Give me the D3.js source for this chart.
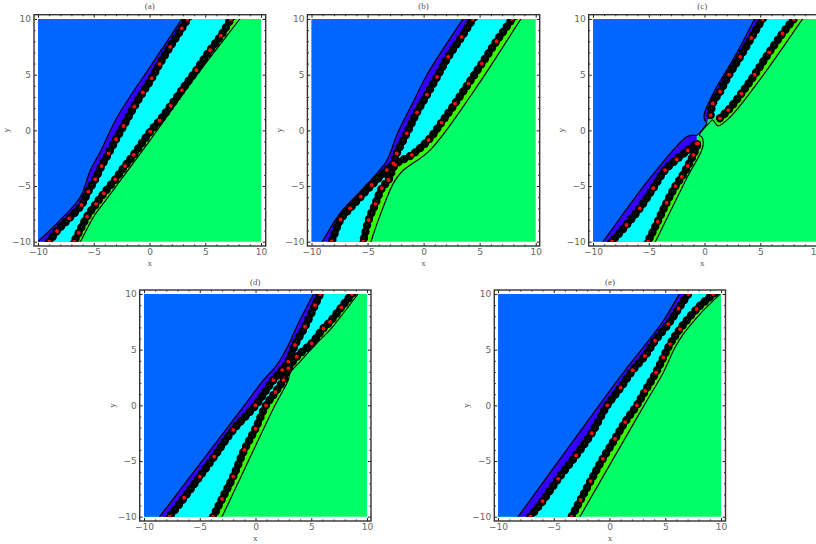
<!DOCTYPE html>
<html>
<head>
<meta charset="utf-8">
<script src="https://cdn.jsdelivr.net/npm/d3@7"></script>
<style>
  html, body { margin: 0; padding: 0; background: #fff; overflow: hidden; }
  svg { display: block; }
</style>
</head>
<body>
<svg id="chart" width="816" height="544"></svg>
<script>
const majorTicks = [-10, -5, 0, 5, 10];
const minorTicks = [-9, -8, -7, -6, -4, -3, -2, -1, 1, 2, 3, 4, 6, 7, 8, 9];

// panel (a), all values in x,y units
const blueA = [[-10,-10],[-8,-8.05],[-6.2,-5.96],[-5.3,-3.56],[-4.4,-1.9],[-2.9,1.2],[0.65,6.6],[2.9,10]];
const upperA = [[-9,-10],[-8.3,-9.04],[-7.2,-7.9],[-6.1,-6.7],[-5.5,-5.5],[-4.87,-4.4],[-4.3,-3.2],[-3.67,-2.07],[-3,-0.8],[-2.33,0.39],[-1.37,2.13],[-0.6,3.4],[0.2,4.67],[0.9,5.96],[1.85,7.5],[2.9,9.16],[3.4,10]];
const lowerA = [[-6.75,-10],[-6.35,-9.2],[-5.6,-7.75],[-4.8,-6.6],[-4.1,-5.66],[-3.07,-4.4],[-2.2,-3.2],[-1.43,-2.2],[0.06,-0.12],[0.9,0.87],[1.9,2.2],[2.9,3.62],[4.2,5.4],[5.43,7.2],[6.4,8.5],[7.3,10]];
const greenA = [[-6.2,-10],[-5,-7.75],[-3.8,-6.1],[0.06,-0.87],[4.24,4.97],[8.1,10]];

// panel (b)
const blueB = [[-9.06,-10],[-7.46,-7.46],[-5.67,-5.5],[-4.04,-3.72],[-3.44,-2.97],[-2.99,-2.07],[-2.4,-0.42],[-1,2.4],[0.3,5],[3.5,10]];
const upperB = [[-8.2,-10],[-7.4,-8],[-6.56,-7],[-5.6,-5.95],[-4.63,-4.91],[-3.29,-3.57],[-2.7,-2.97],[-2.4,-2.07],[-1.5,-0.27],[-0.6,1.6],[0.3,3.2],[1.2,4.8],[2.2,6.6],[3.4,8.4],[4.4,10]];
const lowerB = [[-5.4,-10],[-4.9,-8.06],[-4.3,-6.6],[-3.73,-5.2],[-3.14,-4.46],[-2.54,-3.1],[-1.05,-2.2],[0.43,-0.87],[1.6,0.7],[2.8,2.4],[4,4.2],[5.2,6],[6.5,8],[7.9,10]];
const greenB = [[-4.7,-10],[-4.04,-8.06],[-2.7,-4.76],[-1.95,-3.72],[0.58,-1.77],[4.4,3.4],[8.68,10]];

// panel (c), the null entries split each line at the pinch in the middle
const blueC = [[-9.1,-10],[-4.9,-4.3],[-1.6,-0.57],[-1,-0.42],[-0.7,-0.45],null,[0.2,0.72],[0.05,0.85],[-0.04,1.37],[0.94,3.62],[2.7,6.6],[4.5,10]];
const upperC = [[-8.3,-10],[-7,-8.5],[-5.8,-7],[-4.6,-5.2],[-3.54,-3.57],[-2.5,-2.6],[-1.5,-1.8],[-0.7,-1.17],null,[0.55,1.37],[0.74,2.42],[1.39,3.47],[2.2,5],[3.2,6.6],[4.2,8.3],[5.2,10]];
const lowerC = [[-5.07,-10],[-4.2,-8.2],[-3.4,-6.5],[-2.6,-5],[-2.04,-4.17],[-1.5,-3.2],[-1,-2.2],[-0.58,-1.17],null,[1.39,1.08],[2.13,1.82],[3.3,3.3],[4.5,5],[5.8,7],[7,8.7],[8,10]];
const greenC = [[-4.4,-10],[-1.6,-4.3],[-0.15,-1.47],[-0.25,-0.57],[-0.45,-0.45],null,[0.45,0.7],[0.74,0.93],[1.2,0.41],[2.3,1.2],[5,4.6],[8.8,10]];

// panel (d)
const blueD = [[-8.6,-10],[-1,0],[0.7,2.27],[1.9,3.62],[2.8,5.12],[3.84,7.37],[5.2,10]];
const upperD = [[-7.7,-10],[-6.4,-8.3],[-5,-6.4],[-3.7,-4.6],[-2,-2.2],[0,0],[1.6,2.27],[2.4,3.17],[2.94,3.92],[3.54,5.42],[4.44,7.06],[5.34,9],[5.8,10]];
const lowerD = [[-3.8,-10],[-3,-8.4],[-2,-6.4],[-1,-4],[0,-2.1],[0.94,0],[1.8,1.2],[2.5,2.27],[2.94,3.32],[3.7,4.37],[5.04,5.57],[6.08,6.9],[6.68,7.5],[7.7,8.8],[8.65,10]];
const greenD = [[-3,-10],[1.75,0],[2.94,2.27],[3.1,2.9],[3.99,3.92],[5.63,5.72],[6.68,6.77],[9.2,10]];

// panel (e)
const blueE = [[-8.2,-10],[-0.94,0],[1.24,2.95],[2.89,5.05],[4.83,7.6],[6.26,10]];
const upperE = [[-7.1,-10],[-6,-8.6],[-4.6,-6.6],[-3,-4.5],[-1.6,-2.5],[-0.2,0],[1,1.6],[2.08,3.15],[3.18,4.44],[4.08,5.8],[5.27,7.3],[6.2,8.7],[7.07,10]];
const lowerE = [[-3.4,-10],[-2.6,-8.5],[-1.7,-6.8],[-0.6,-4.8],[0.5,-3],[1.4,-1.5],[2.45,0],[3.2,1.3],[4.17,2.95],[4.83,4.3],[5.43,5.5],[6.32,6.85],[7.82,8.65],[9.3,10]];
const greenE = [[-2.65,-10],[3.1,0],[4.83,2.95],[5.87,5.2],[6.62,6.4],[8.12,8.2],[9.91,10]];

const panelNames = ["(a)", "(b)", "(c)", "(d)", "(e)"];
const blueLines = [blueA, blueB, blueC, blueD, blueE];
const upperBands = [upperA, upperB, upperC, upperD, upperE];
const lowerBands = [lowerA, lowerB, lowerC, lowerD, lowerE];
const greenLines = [greenA, greenB, greenC, greenD, greenE];

// pixel boxes of the five panels
const boxes = [
    {left: 38, right: 261, top: 19, bottom: 241.7, frameL: 34, frameR: 265.7, frameT: 14.7, frameB: 246},
    {left: 311.5, right: 535.7, top: 19, bottom: 241.7, frameL: 307.4, frameR: 539.7, frameT: 14.7, frameB: 246},
    {left: 593, right: 816, top: 19, bottom: 241.7, frameL: 588.7, frameR: 820, frameT: 14.7, frameB: 246},
    {left: 144, right: 367, top: 294, bottom: 516.7, frameL: 139.7, frameR: 371, frameT: 290, frameB: 521},
    {left: 498, right: 721, top: 294, bottom: 516.7, frameL: 494.3, frameR: 725.5, frameT: 290, frameB: 521}
];

const svg = d3.select("#chart");

// runs a line a little past y=+-10 so the clip cuts it cleanly
function extended(points){
    const first = points[0], second = points[1];
    const last = points[points.length - 1], prev = points[points.length - 2];
    return [
        [first[0] - (second[0] - first[0]), first[1] - (second[1] - first[1])],
        ...points,
        [last[0] + (last[0] - prev[0]), last[1] + (last[1] - prev[1])]
    ];
}

// cuts a list into its pieces at the null entries
function pieces(points){
    const out = [[]];
    points.forEach(p => {
        if(p === null){
            out.push([]);
        }else{
            out[out.length - 1].push(p);
        }
    });
    return out;
}

function drawPanel(i){
    const box = boxes[i];
    const x = d3.scaleLinear().domain([-10, 10]).range([box.left, box.right]);
    const y = d3.scaleLinear().domain([-10, 10]).range([box.bottom, box.top]);

    const line = d3.line().x(d => x(d[0])).y(d => y(d[1]));
    const curved = d3.line().x(d => x(d[0])).y(d => y(d[1])).curve(d3.curveCatmullRom.alpha(0.5));

    // region between two curves, closed with straight ends
    const between = (a, b) => curved(a) + "L" + curved(b.slice().reverse()).slice(1) + "Z";

    const blue = pieces(extended(blueLines[i]));
    const upper = pieces(extended(upperBands[i]));
    const lower = pieces(extended(lowerBands[i]));
    const green = pieces(extended(greenLines[i]));
    const blueWhole = blue.flat();
    const greenWhole = green.flat();

    const clipId = "clip-" + i;
    svg.append("clipPath").attr("id", clipId).append("rect")
        .attr("x", box.left).attr("y", box.top)
        .attr("width", box.right - box.left).attr("height", box.bottom - box.top);

    const g = svg.append("g").attr("clip-path", `url(#${clipId})`);

    g.append("path").attr("fill", "#00ff66")
        .attr("d", line([[-11,-11],[11,-11],[11,11],[-11,11]]) + "Z");
    g.append("path").attr("fill", "#0066ff")
        .attr("d", line([[-14,-14]]) + "L" + curved(blueWhole).slice(1) + "L" + line([[-14,14]]).slice(1) + "Z");

    blue.forEach((part, k) => {
        g.append("path").attr("fill", "#3300ff").attr("d", between(part, upper[k]));
        g.append("path").attr("fill", "#00ffff").attr("d", between(upper[k], lower[k]));
        g.append("path").attr("fill", "#33ff00").attr("d", between(lower[k], green[k]));
    });

    // thick black bands with a beaded edge
    [...upper, ...lower].forEach(band => {
        g.append("path").attr("fill", "none").attr("stroke", "#000")
            .attr("stroke-width", 6).attr("stroke-linecap", "round").attr("stroke-linejoin", "round")
            .attr("d", curved(band));
        g.append("path").attr("fill", "none").attr("stroke", "#000")
            .attr("stroke-width", 8.4).attr("stroke-linecap", "round")
            .attr("stroke-dasharray", "0 6.5")
            .attr("d", curved(band));
        g.append("path").attr("fill", "none").attr("stroke", "#0b5a2a")
            .attr("stroke-width", 0.8).attr("stroke-dasharray", "1.5 5")
            .attr("d", curved(band));
    });

    [blueWhole, greenWhole].forEach(edge => {
        g.append("path").attr("fill", "none").attr("stroke", "#000")
            .attr("stroke-width", 1.2).attr("stroke-linejoin", "round")
            .attr("d", curved(edge));
    });

    g.selectAll(".dot")
        .data([...upperBands[i], ...lowerBands[i]].filter(Boolean))
        .enter().append("circle")
        .attr("class", "dot")
        .attr("cx", d => x(d[0]))
        .attr("cy", d => y(d[1]))
        .attr("r", 1.9)
        .attr("fill", "#ff0a14");

    drawFrame(i, box, x, y);
}

function drawFrame(i, box, x, y){
    const fmt = d => d < 0 ? "\u2212" + Math.abs(d) : String(d);
    const sides = [
        {axis: d3.axisBottom, scale: x, tr: `translate(0,${box.frameB})`, labels: true},
        {axis: d3.axisTop, scale: x, tr: `translate(0,${box.frameT})`, labels: false},
        {axis: d3.axisLeft, scale: y, tr: `translate(${box.frameL},0)`, labels: true},
        {axis: d3.axisRight, scale: y, tr: `translate(${box.frameR},0)`, labels: false}
    ];

    sides.forEach(side => {
        const major = svg.append("g").attr("transform", side.tr)
            .call(side.axis(side.scale).tickValues(majorTicks).tickSize(-3).tickPadding(3)
                .tickFormat(side.labels ? fmt : ""));
        major.select(".domain").remove();
        major.selectAll("line").attr("stroke", "#222").attr("stroke-width", 1);
        major.selectAll("text")
            .attr("fill", "#666")
            .style("font-family", "DejaVu Sans, sans-serif")
            .style("font-size", "9px");

        const minor = svg.append("g").attr("transform", side.tr)
            .call(side.axis(side.scale).tickValues(minorTicks).tickSize(-1.6).tickFormat(""));
        minor.select(".domain").remove();
        minor.selectAll("line").attr("stroke", "#333").attr("stroke-width", 1);
    });

    svg.append("rect")
        .attr("x", box.frameL).attr("y", box.frameT)
        .attr("width", box.frameR - box.frameL).attr("height", box.frameB - box.frameT)
        .attr("fill", "none").attr("stroke", "#333").attr("stroke-width", 1.4);

    const midX = (box.frameL + box.frameR - (i === 2 ? 4 : 0)) / 2;
    const midY = (box.frameT + box.frameB) / 2;
    const textStyle = sel => sel.attr("text-anchor", "middle").attr("fill", "#555")
        .style("font-family", "Liberation Serif, serif").style("font-size", "9px");

    svg.append("text").attr("x", midX).attr("y", box.frameT - 5.5).text(panelNames[i]).call(textStyle);
    svg.append("text").attr("x", midX).attr("y", box.frameB + 20).text("x").call(textStyle);
    svg.append("text")
        .attr("transform", `translate(${box.frameL - 25},${midY}) rotate(-90)`)
        .text("y").call(textStyle);
}

panelNames.forEach((name, i) => drawPanel(i));
</script>
</body>
</html>
